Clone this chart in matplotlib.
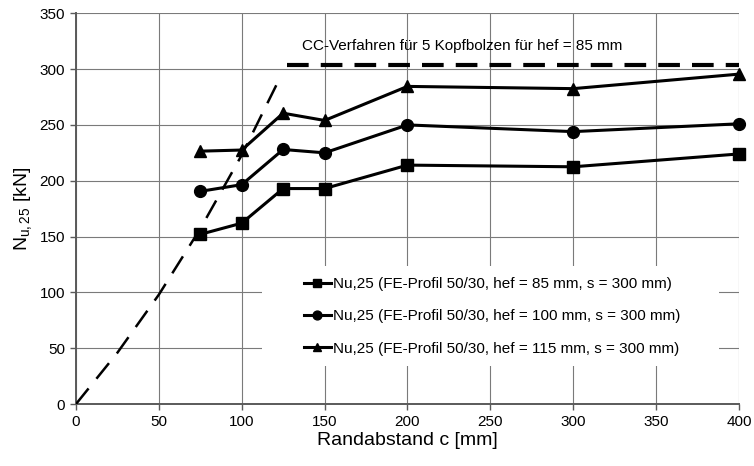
import numpy as np
import matplotlib
matplotlib.use("Agg")
import matplotlib.pyplot as plt
from matplotlib.patches import Rectangle

plt.rcParams['font.family'] = ['Liberation Sans', 'DejaVu Sans']
plt.rcParams['mathtext.fontset'] = 'custom'
plt.rcParams['mathtext.rm'] = 'Liberation Sans'
plt.rcParams['mathtext.it'] = 'Liberation Sans'

# edge distance c [mm]
c = [75, 100, 125, 150, 200, 300, 400]

# Nu,25 [kN] for the three embedment depths
nu_85 = [152, 162, 193, 193, 214, 212.5, 224]
nu_100 = [190.5, 196.5, 228, 225, 250, 244, 251]
nu_115 = [226.5, 227.5, 260.5, 254, 284.5, 282.5, 295.5]

labels = ['Nu,25 (FE-Profil 50/30, hef = 85 mm, s = 300 mm)',
          'Nu,25 (FE-Profil 50/30, hef = 100 mm, s = 300 mm)',
          'Nu,25 (FE-Profil 50/30, hef = 115 mm, s = 300 mm)']

# CC method curve for 5 headed studs
cc_c = [0, 25, 50, 75, 100, 124]
cc_n = [0, 46, 98, 157, 223, 295]
cc_limit = 304
cc_c_max = [127.5, 400]

fig = plt.figure(figsize=(7.54, 4.66), dpi=100)
ax = fig.add_axes([0.1008, 0.133, 0.8792, 0.8385])

ax.set_xlim(0, 400)
ax.set_ylim(0, 350)
ax.set_xticks(np.arange(0, 401, 50))
ax.set_yticks(np.arange(0, 351, 50))
ax.grid(True, color='#7a7a7a', linewidth=0.8)
ax.set_axisbelow(True)

for s in ['top', 'right']:
    ax.spines[s].set_visible(False)
for s in ['left', 'bottom']:
    ax.spines[s].set_color('#5a5a5a')
    ax.spines[s].set_linewidth(1.4)
ax.tick_params(direction='out', length=4, width=1, color='#5a5a5a',
               labelsize=11, pad=4)

# white background behind the legend entries
ax.add_patch(Rectangle((112, 34), 276, 90, facecolor='white', edgecolor='none', zorder=2))

ax.plot(cc_c, cc_n, color='black', lw=1.8, dashes=(8, 5), zorder=3)
ax.plot(cc_c_max, [cc_limit, cc_limit], color='black', lw=3, dashes=(5.2, 2.9), zorder=3)
ax.text(136.5, 320.5, 'CC-Verfahren für 5 Kopfbolzen für hef = 85 mm',
        fontsize=11, va='center', ha='left')

ax.plot(c, nu_85, color='black', lw=2.2, marker='s', ms=8, label=labels[0], zorder=4, clip_on=False)
ax.plot(c, nu_100, color='black', lw=2.2, marker='o', ms=8.5, label=labels[1], zorder=4, clip_on=False)
ax.plot(c, nu_115, color='black', lw=2.2, marker='^', ms=8.5, label=labels[2], zorder=4, clip_on=False)

leg = ax.legend(loc='upper left', bbox_to_anchor=(0.318, 0.368), fontsize=11,
                frameon=False, handlelength=1.8, handletextpad=0.15,
                labelspacing=1.2, borderpad=0.6, markerscale=0.75)
leg.set_zorder(5)

ax.set_xlabel('Randabstand c [mm]', fontsize=14, labelpad=2)
ax.set_ylabel(r'N$_{\mathrm{u,25}}$ [kN]', fontsize=14, labelpad=4)

fig.savefig('out.png', dpi=100)
